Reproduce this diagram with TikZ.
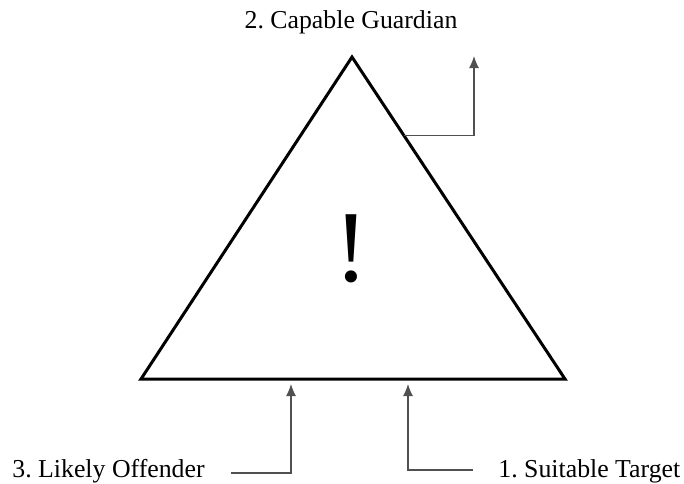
\documentclass[tikz,border=0pt]{standalone}
\usepackage{fontspec}
\setmainfont{Liberation Serif}
\usetikzlibrary{arrows.meta, positioning, calc}
\definecolor{EdgeGray}{HTML}{505050}
\frenchspacing

\tikzset{
  label/.style={font=\fontsize{12.9}{15}\selectfont, inner sep=0pt, anchor=base west},
  feeder/.style={-{Latex[length=6pt, width=5pt]}, color=EdgeGray, line width=0.6pt},
  side/.style={line width=1.5pt, line join=miter}
}

\begin{document}
\begin{tikzpicture}[x=0.5pt, y=-0.5pt]
    \useasboundingbox (0,0) rectangle (684,483);

    % Corners of the triangle
    \coordinate (apex) at (352,57);
    \coordinate (baseL) at (141,379);
    \coordinate (baseR) at (565,379);
    \draw[side] (apex) -- (baseL) -- (baseR) -- cycle;

    % Warning mark
    \node[font=\fontsize{51}{55}\selectfont, inner sep=0pt, anchor=base] (warn) at (351,281) {!};

    % Labels
    \node[label, anchor=base] (guardian) at (351,28) {2. Capable Guardian};
    \node[label] (offender) at (12,477) {3. Likely Offender};
    \node[label] (target) at (498,477) {1. Suitable Target};

    % Feeders into the triangle
    \coordinate (gStart) at ($(apex)!0.245!(baseR)$);
    \coordinate (gTip) at (474,56);
    \draw[feeder] (gStart) -| (gTip);

    \coordinate (oStart) at (231,473);
    \coordinate (oTip) at (291,384);
    \draw[feeder] (oStart) -| (oTip);

    \coordinate (tStart) at (473,470);
    \coordinate (tTip) at (408,384);
    \draw[feeder] (tStart) -| (tTip);
\end{tikzpicture}
\end{document}
